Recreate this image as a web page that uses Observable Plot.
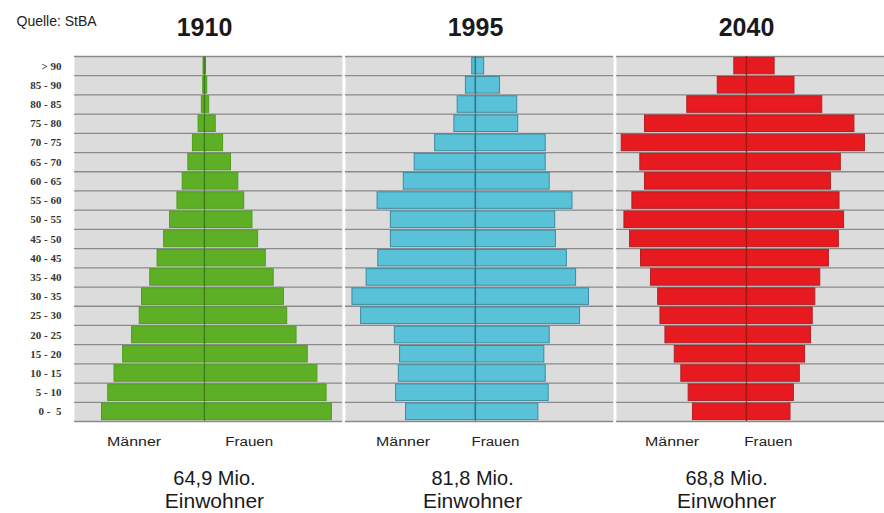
<!DOCTYPE html>
<html>
<head>
<meta charset="utf-8">
<script src="https://cdn.jsdelivr.net/npm/d3@7"></script>
<script src="https://cdn.jsdelivr.net/npm/@observablehq/plot@0.6"></script>
<style>
  body { margin: 0; background: #ffffff; }
  svg { display: block; }
</style>
</head>
<body>
<div id="chart"></div>
<script>
// Age groups, top to bottom as in the picture
const ages = ["> 90","85 - 90","80 - 85","75 - 80","70 - 75","65 - 70","60 - 65","55 - 60","50 - 55","45 - 50",
              "40 - 45","35 - 40","30 - 35","25 - 30","20 - 25","15 - 20","10 - 15","5 - 10","0 -  5"];
const years = ["1910", "1995", "2040"];

// Bar lengths (relative units), top to bottom
const male1910   = [1, 1.3, 2.7, 6, 11.7, 16.3, 22, 27.3, 34.7, 40.7, 47.3, 54.7, 63, 65.3, 73, 82, 90.7, 97, 103.3];
const female1910 = [1.5, 2.7, 4.7, 11.3, 18.7, 26.7, 34, 40, 48.3, 54, 61.7, 69.7, 80, 83.3, 92.7, 104, 113.7, 123, 128.3];
const male1995   = [3.3, 9.7, 18, 21.3, 40.7, 61.3, 72.3, 98.7, 85.3, 85.3, 98, 109.7, 124, 115.3, 81.3, 76, 77.3, 80, 70];
const female1995 = [8.7, 24.7, 42, 43, 70.7, 70.7, 74.7, 97.7, 80.3, 81, 92, 101.3, 114.3, 105.3, 74.7, 69.3, 70.7, 73.7, 63.3];
const male2040   = [12.3, 29, 59.7, 102.3, 125.7, 107, 102.3, 115, 123, 117.3, 106.3, 96.3, 89, 86.7, 81.7, 72.3, 65.7, 58.3, 54];
const female2040 = [28.3, 48.3, 76.3, 108.7, 119.3, 95, 85, 93.7, 98.3, 93, 83, 74.3, 69.3, 66.7, 65, 59, 53.7, 47.7, 44.3];

const totals = ["64,9 Mio.", "81,8 Mio.", "68,8 Mio."];
const source = "Quelle: StBA";

// styles
const fills   = {"1910": "#5db025", "1995": "#5ac2d8", "2040": "#e61a1f"};
const strokes = {"1910": "#4f9d1e", "1995": "#3a8ca2", "2040": "#b02226"};
const centers = {"1910": "#3f7d18", "1995": "#2b7c92", "2040": "#a51818"};
// label offsets (relative to each pyramid's centre line)
const maennerDX = [-71, -73, -75];
const frauenDX  = [45, 20, 22];
const totalDX   = [10, -3, -20];

const series = {"1910": [male1910, female1910], "1995": [male1995, female1995], "2040": [male2040, female2040]};
const n = ages.length;
const rows = [];
for (const y of years) {
  const [m, f] = series[y];
  ages.forEach((a, k) => rows.push({year: y, age: a, idx: n - 1 - k, male: m[k], female: f[k]}));
}

const marks = [
  Plot.frame({fill: "#dcdcdc", stroke: null}),
  Plot.ruleY(d3.range(n + 1), {y: d => d, stroke: "#8a8a8a", strokeWidth: 1.3})
];
for (const y of years) {
  const data = rows.filter(r => r.year === y);
  marks.push(
    Plot.rectX(data, {fx: "year", x1: 0, x2: d => -d.male, y1: d => d.idx + 0.07, y2: d => d.idx + 0.93,
                      fill: fills[y], stroke: strokes[y], strokeWidth: 1}),
    Plot.rectX(data, {fx: "year", x1: 0, x2: d => d.female, y1: d => d.idx + 0.07, y2: d => d.idx + 0.93,
                      fill: fills[y], stroke: strokes[y], strokeWidth: 1}),
    Plot.ruleX(data, {fx: "year", x: 0, y1: d => d.idx, y2: d => d.idx + 1, stroke: centers[y], strokeWidth: 1.2})
  );
}
marks.push(
  Plot.axisY({ticks: d3.range(n).map(i => i + 0.5), tickFormat: v => ages[n - 1 - Math.floor(v)],
              tickSize: 0, tickPadding: 13, fontFamily: "Liberation Serif", fontWeight: "bold", fontSize: 11, fill: "#333"}),
  Plot.text(years, {fx: d => d, x: 0, text: d => d, frameAnchor: "top", lineAnchor: "bottom", dy: -21,
                    fontSize: 25, fontWeight: "bold", fill: "#1a1a1a"}),
  Plot.text([source], {fx: () => "1910", text: d => d, frameAnchor: "top-left", textAnchor: "start", lineAnchor: "bottom",
                       dx: -58, dy: -31, fontSize: 14, fill: "#222"}),
  Plot.text(years, {fx: d => d, x: (d, i) => maennerDX[i], text: () => "Männer", frameAnchor: "bottom", lineAnchor: "bottom",
                    dy: 24, fontSize: 12, fill: "#222"}),
  Plot.text(years, {fx: d => d, x: (d, i) => frauenDX[i], text: () => "Frauen", frameAnchor: "bottom", lineAnchor: "bottom",
                    dy: 24, fontSize: 12, fill: "#222"}),
  Plot.text(years, {fx: d => d, x: (d, i) => totalDX[i], text: (d, i) => totals[i], frameAnchor: "bottom", lineAnchor: "bottom",
                    dy: 63, fontSize: 20, fill: "#1a1a1a"}),
  Plot.text(years, {fx: d => d, x: (d, i) => totalDX[i], text: () => "Einwohner", frameAnchor: "bottom", lineAnchor: "bottom",
                    dy: 86, fontSize: 21, fill: "#1a1a1a"})
);

const chart = Plot.plot({
  width: 884,
  height: 513,
  marginLeft: 73,
  marginRight: 0,
  marginTop: 56,
  marginBottom: 92,
  style: {fontFamily: "Liberation Sans, Arial, sans-serif", background: "#ffffff"},
  fx: {domain: years, paddingInner: 0.012, paddingOuter: 0, axis: null},
  x: {domain: [-131, 139], axis: null},
  y: {domain: [0, n], axis: null},
  marks
});
document.getElementById("chart").appendChild(chart);

// stretch the small sex labels horizontally like the original
d3.select(chart).selectAll("text").each(function() {
  const t = this.textContent;
  if (t === "Männer") { this.setAttribute("textLength", 54); this.setAttribute("lengthAdjust", "spacingAndGlyphs"); }
  if (t === "Frauen") { this.setAttribute("textLength", 48); this.setAttribute("lengthAdjust", "spacingAndGlyphs"); }
});
</script>
</body>
</html>
